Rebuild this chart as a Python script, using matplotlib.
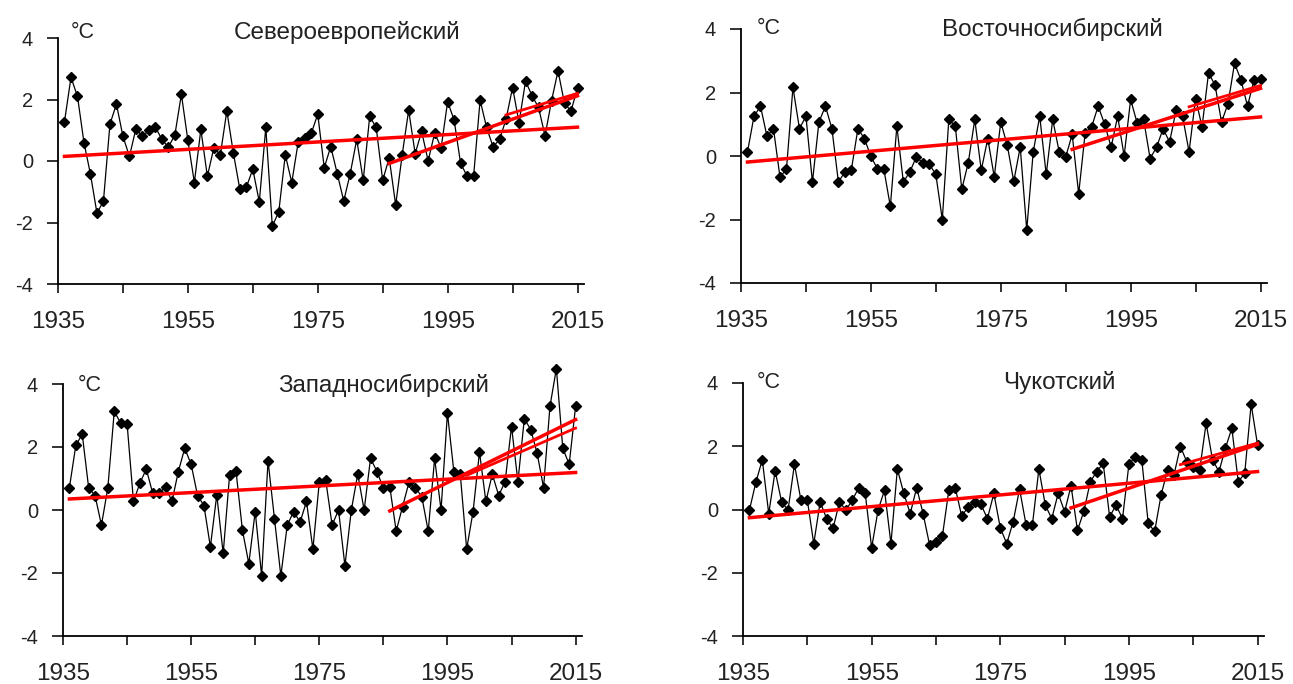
import numpy as np
import matplotlib
matplotlib.use('Agg')
import matplotlib.pyplot as plt

plt.rcParams['font.family'] = ['Liberation Sans', 'DejaVu Sans']
plt.rcParams['axes.unicode_minus'] = False

# years of the series
years = np.arange(1936, 2016)

# anomalies, °C
north_europe = [1.28, 2.72, 2.1, 0.6, -0.43, -1.7, -1.3, 1.2, 1.85, 0.8,
                0.15, 1.05, 0.8, 1.0, 1.1, 0.7, 0.45, 0.85, 2.17, 0.67,
                -0.7, 1.03, -0.5, 0.43, 0.2, 1.63, 0.27, -0.92, -0.85, -0.27,
                -1.33, 1.09, -2.12, -1.65, 0.2, -0.7, 0.63, 0.74, 0.9, 1.52,
                -0.22, 0.47, -0.41, -1.3, -0.41, 0.7, -0.63, 1.45, 1.09, -0.63,
                0.1, -1.43, 0.2, 1.65, 0.24, 0.96, 0.0, 0.91, 0.43, 1.93,
                1.33, -0.08, -0.49, -0.49, 1.98, 1.09, 0.46, 0.7, 1.36, 2.39,
                1.25, 2.6, 2.12, 1.74, 0.82, 1.96, 2.93, 1.87, 1.63, 2.37]

east_siberia = [0.13, 1.25, 1.57, 0.62, 0.86, -0.66, -0.42, 2.16, 0.86, 1.25,
                -0.82, 1.07, 1.57, 0.86, -0.82, -0.5, -0.43, 0.86, 0.55, -0.01,
                -0.4, -0.42, -1.59, 0.94, -0.82, -0.5, -0.03, -0.22, -0.26, -0.58,
                -2.0, 1.15, 0.94, -1.05, -0.21, 1.15, -0.45, 0.55, -0.66, 1.07,
                0.34, -0.8, 0.28, -2.33, 0.13, 1.25, -0.58, 1.15, 0.13, -0.03,
                0.68, -1.19, 0.73, 0.92, 1.57, 1.0, 0.28, 1.25, 0.0, 1.78,
                1.04, 1.15, -0.08, 0.28, 0.86, 0.44, 1.44, 1.25, 0.13, 1.81,
                0.92, 2.62, 2.23, 1.07, 1.65, 2.92, 2.39, 1.57, 2.39, 2.44]

west_siberia = [0.71, 2.05, 2.41, 0.71, 0.46, -0.48, 0.71, 3.13, 2.76, 2.74,
                0.27, 0.85, 1.3, 0.53, 0.53, 0.74, 0.27, 1.22, 1.96, 1.45,
                0.46, 0.14, -1.17, 0.48, -1.38, 1.11, 1.24, -0.64, -1.7, -0.05,
                -2.09, 1.56, -0.27, -2.09, -0.48, -0.05, -0.39, 0.27, -1.24, 0.88,
                0.95, -0.48, 0.0, -1.77, 0.0, 1.14, 0.0, 1.64, 1.22, 0.69,
                0.74, -0.67, 0.11, 0.88, 0.71, 0.42, -0.67, 1.64, 0.0, 3.08,
                1.22, 1.14, -1.24, -0.05, 1.84, 0.27, 1.14, 0.46, 0.9, 2.65,
                0.9, 2.9, 2.55, 1.8, 0.71, 3.29, 4.49, 1.96, 1.45, 3.29]

chukotka = [-0.02, 0.86, 1.57, -0.13, 1.22, 0.24, -0.02, 1.43, 0.3, 0.3,
            -1.08, 0.24, -0.29, -0.6, 0.24, -0.02, 0.3, 0.69, 0.51, -1.21,
            -0.02, 0.61, -1.08, 1.28, 0.51, -0.13, 0.69, -0.13, -1.11, -1.03,
            -0.84, 0.61, 0.69, -0.21, 0.08, 0.24, 0.16, -0.29, 0.51, -0.58,
            -1.08, -0.39, 0.65, -0.48, -0.48, 1.28, 0.14, -0.29, 0.51, -0.07,
            0.75, -0.66, -0.05, 0.88, 1.2, 1.46, -0.23, 0.14, -0.29, 1.43,
            1.67, 1.57, -0.44, -0.69, 0.46, 1.25, 1.09, 1.99, 1.51, 1.35,
            1.25, 2.73, 1.57, 1.2, 1.94, 2.57, 0.88, 1.14, 3.33, 2.04]

titles = ['Североевропейский', 'Восточносибирский', 'Западносибирский', 'Чукотский']
series = [north_europe, east_siberia, west_siberia, chukotka]

# trend lines: [start year, end year], [start value, end value]
trend_full_years = [1936, 2015]
trend_full = [[0.15, 1.1], [-0.19, 1.23], [0.35, 1.19], [-0.26, 1.2]]
trend_recent_years = [1986, 2015]
trend_recent = [[-0.08, 2.12], [0.21, 2.13], [-0.03, 2.87], [0.05, 2.06]]
trend_late_years = [[2004, 2015], [2004, 2015], [1998, 2015], [2003, 2015]]
trend_late = [[1.5, 2.2], [1.55, 2.22], [1.1, 2.6], [1.42, 2.1]]

xticks = np.arange(1935, 2016, 10)
xlabels = [str(y) if (y - 1935) % 20 == 0 else '' for y in xticks]
yticks = [-4, -2, 0, 2, 4]

W, H = 1293, 684
# axes boxes in pixels: left, top, right, bottom
boxes = [(58, 38, 584, 284), (741, 29, 1267, 283),
         (63, 384, 582, 636), (743, 383, 1264, 636)]
title_pos = [(0.55, 1.024), (0.592, 1.0), (0.618, 0.996), (0.608, 1.0)]
unit_pos = [(0.025, 1.024), (0.029, 1.0), (0.029, 0.996), (0.027, 1.0)]

fig = plt.figure(figsize=(W / 100, H / 100), dpi=100)

for i in range(4):
    l, t, r, b = boxes[i]
    ax = fig.add_axes([l / W, 1 - b / H, (r - l) / W, (b - t) / H])
    ax.plot(years, series[i], color='black', lw=0.9, marker='D',
            markersize=5, clip_on=False, zorder=3)
    ax.plot(trend_full_years, trend_full[i], color='#ff0000', lw=2.5, zorder=4)
    ax.plot(trend_recent_years, trend_recent[i], color='#ff0000', lw=2.5, zorder=4)
    ax.plot(trend_late_years[i], trend_late[i], color='#ff0000', lw=2.0, zorder=4)

    ax.set_xlim(1935, 2016)
    ax.set_ylim(-4, 4)
    ax.set_xticks(xticks)
    ax.set_xticklabels(xlabels)
    ax.set_yticks(yticks)
    ax.spines['top'].set_visible(False)
    ax.spines['right'].set_visible(False)
    for s in ['left', 'bottom']:
        ax.spines[s].set_linewidth(1.3)
    ax.tick_params(axis='x', direction='out', length=6.5, width=1.3,
                   labelsize=17.5, pad=13, colors='#222222')
    ax.tick_params(axis='y', direction='out', length=8, width=1.3,
                   labelsize=14.5, pad=10, colors='#222222')

    ax.text(title_pos[i][0], title_pos[i][1], titles[i], transform=ax.transAxes,
            ha='center', va='center', fontsize=17.5, color='#222222')
    ax.text(unit_pos[i][0], unit_pos[i][1], '°C', transform=ax.transAxes,
            ha='left', va='center', fontsize=15.5, color='#222222')

plt.savefig('out.png', dpi=100)
